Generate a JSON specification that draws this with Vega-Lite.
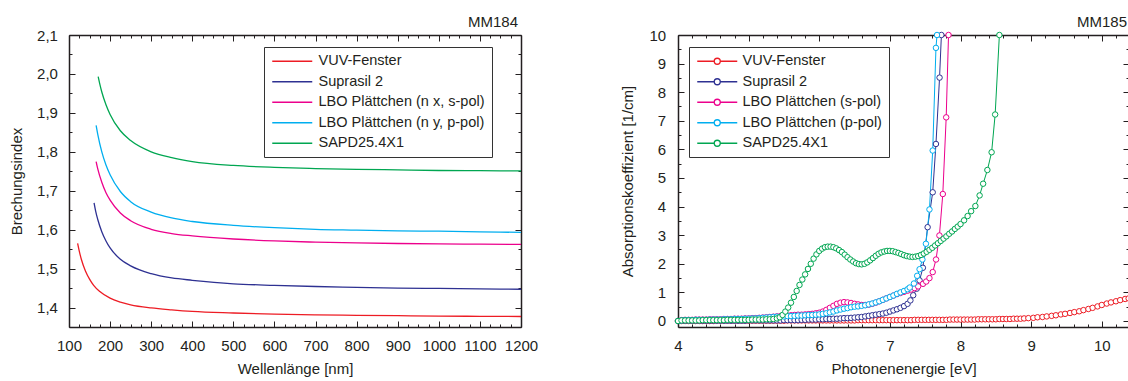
{
  "$schema": "https://vega.github.io/schema/vega-lite/v6.json",
  "padding": {"left": 9, "top": 14, "right": 0, "bottom": 0},
  "background": "white",
  "config": {
    "font": "Liberation Sans",
    "view": {"stroke": null},
    "axis": {"grid": false, "labelFont": "Liberation Sans", "labelFontSize": 15, "labelColor": "#231f20", "titleFont": "Liberation Sans", "titleFontSize": 15, "titleFontWeight": "normal", "titleColor": "#231f20", "domainColor": "#231f20", "domainWidth": 1.5, "tickColor": "#231f20", "tickWidth": 1, "labelOverlap": false, "labelFlush": false},
    "legend": {"labelFont": "Liberation Sans", "labelFontSize": 14.5, "labelColor": "#231f20", "strokeColor": "#333333", "fillColor": "white", "padding": 7, "rowPadding": 5.5, "labelLimit": 400},
    "title": {"font": "Liberation Sans", "fontSize": 15, "fontWeight": "normal", "color": "#231f20", "anchor": "end", "frame": "group", "offset": -1.75}
  },
  "datasets": {
    "brechung": [
      {"s": "VUV-Fenster", "wl": 121, "n": 1.565}, {"s": "VUV-Fenster", "wl": 125, "n": 1.545}, {"s": "VUV-Fenster", "wl": 130, "n": 1.524}, {"s": "VUV-Fenster", "wl": 140, "n": 1.494}, {"s": "VUV-Fenster", "wl": 150, "n": 1.473}, {"s": "VUV-Fenster", "wl": 160, "n": 1.457}, {"s": "VUV-Fenster", "wl": 175, "n": 1.441}, {"s": "VUV-Fenster", "wl": 200, "n": 1.424}, {"s": "VUV-Fenster", "wl": 225, "n": 1.414}, {"s": "VUV-Fenster", "wl": 250, "n": 1.407}, {"s": "VUV-Fenster", "wl": 300, "n": 1.399}, {"s": "VUV-Fenster", "wl": 350, "n": 1.394}, {"s": "VUV-Fenster", "wl": 400, "n": 1.39}, {"s": "VUV-Fenster", "wl": 500, "n": 1.386}, {"s": "VUV-Fenster", "wl": 600, "n": 1.383}, {"s": "VUV-Fenster", "wl": 700, "n": 1.381}, {"s": "VUV-Fenster", "wl": 800, "n": 1.38}, {"s": "VUV-Fenster", "wl": 900, "n": 1.379}, {"s": "VUV-Fenster", "wl": 1000, "n": 1.378}, {"s": "VUV-Fenster", "wl": 1100, "n": 1.3775}, {"s": "VUV-Fenster", "wl": 1200, "n": 1.377},
      {"s": "Suprasil 2", "wl": 161, "n": 1.669}, {"s": "Suprasil 2", "wl": 165, "n": 1.647}, {"s": "Suprasil 2", "wl": 170, "n": 1.626}, {"s": "Suprasil 2", "wl": 180, "n": 1.594}, {"s": "Suprasil 2", "wl": 190, "n": 1.571}, {"s": "Suprasil 2", "wl": 200, "n": 1.553}, {"s": "Suprasil 2", "wl": 225, "n": 1.524}, {"s": "Suprasil 2", "wl": 250, "n": 1.507}, {"s": "Suprasil 2", "wl": 300, "n": 1.487}, {"s": "Suprasil 2", "wl": 350, "n": 1.476}, {"s": "Suprasil 2", "wl": 400, "n": 1.47}, {"s": "Suprasil 2", "wl": 500, "n": 1.461}, {"s": "Suprasil 2", "wl": 600, "n": 1.457}, {"s": "Suprasil 2", "wl": 700, "n": 1.454}, {"s": "Suprasil 2", "wl": 800, "n": 1.452}, {"s": "Suprasil 2", "wl": 900, "n": 1.45}, {"s": "Suprasil 2", "wl": 1000, "n": 1.449}, {"s": "Suprasil 2", "wl": 1100, "n": 1.448}, {"s": "Suprasil 2", "wl": 1200, "n": 1.447},
      {"s": "LBO Plättchen (n x, s-pol)", "wl": 166, "n": 1.775}, {"s": "LBO Plättchen (n x, s-pol)", "wl": 170, "n": 1.756}, {"s": "LBO Plättchen (n x, s-pol)", "wl": 180, "n": 1.721}, {"s": "LBO Plättchen (n x, s-pol)", "wl": 190, "n": 1.695}, {"s": "LBO Plättchen (n x, s-pol)", "wl": 200, "n": 1.676}, {"s": "LBO Plättchen (n x, s-pol)", "wl": 225, "n": 1.643}, {"s": "LBO Plättchen (n x, s-pol)", "wl": 250, "n": 1.623}, {"s": "LBO Plättchen (n x, s-pol)", "wl": 300, "n": 1.601}, {"s": "LBO Plättchen (n x, s-pol)", "wl": 350, "n": 1.59}, {"s": "LBO Plättchen (n x, s-pol)", "wl": 400, "n": 1.584}, {"s": "LBO Plättchen (n x, s-pol)", "wl": 500, "n": 1.576}, {"s": "LBO Plättchen (n x, s-pol)", "wl": 600, "n": 1.571}, {"s": "LBO Plättchen (n x, s-pol)", "wl": 700, "n": 1.568}, {"s": "LBO Plättchen (n x, s-pol)", "wl": 800, "n": 1.566}, {"s": "LBO Plättchen (n x, s-pol)", "wl": 900, "n": 1.5645}, {"s": "LBO Plättchen (n x, s-pol)", "wl": 1000, "n": 1.5635}, {"s": "LBO Plättchen (n x, s-pol)", "wl": 1100, "n": 1.5628}, {"s": "LBO Plättchen (n x, s-pol)", "wl": 1200, "n": 1.562},
      {"s": "LBO Plättchen (n y, p-pol)", "wl": 166, "n": 1.868}, {"s": "LBO Plättchen (n y, p-pol)", "wl": 170, "n": 1.845}, {"s": "LBO Plättchen (n y, p-pol)", "wl": 180, "n": 1.799}, {"s": "LBO Plättchen (n y, p-pol)", "wl": 190, "n": 1.766}, {"s": "LBO Plättchen (n y, p-pol)", "wl": 200, "n": 1.741}, {"s": "LBO Plättchen (n y, p-pol)", "wl": 225, "n": 1.698}, {"s": "LBO Plättchen (n y, p-pol)", "wl": 250, "n": 1.672}, {"s": "LBO Plättchen (n y, p-pol)", "wl": 300, "n": 1.645}, {"s": "LBO Plättchen (n y, p-pol)", "wl": 350, "n": 1.63}, {"s": "LBO Plättchen (n y, p-pol)", "wl": 400, "n": 1.621}, {"s": "LBO Plättchen (n y, p-pol)", "wl": 500, "n": 1.611}, {"s": "LBO Plättchen (n y, p-pol)", "wl": 600, "n": 1.605}, {"s": "LBO Plättchen (n y, p-pol)", "wl": 700, "n": 1.601}, {"s": "LBO Plättchen (n y, p-pol)", "wl": 800, "n": 1.599}, {"s": "LBO Plättchen (n y, p-pol)", "wl": 900, "n": 1.597}, {"s": "LBO Plättchen (n y, p-pol)", "wl": 1000, "n": 1.596}, {"s": "LBO Plättchen (n y, p-pol)", "wl": 1100, "n": 1.5945}, {"s": "LBO Plättchen (n y, p-pol)", "wl": 1200, "n": 1.593},
      {"s": "SAPD25.4X1", "wl": 171, "n": 1.993}, {"s": "SAPD25.4X1", "wl": 175, "n": 1.974}, {"s": "SAPD25.4X1", "wl": 180, "n": 1.953}, {"s": "SAPD25.4X1", "wl": 190, "n": 1.921}, {"s": "SAPD25.4X1", "wl": 200, "n": 1.896}, {"s": "SAPD25.4X1", "wl": 225, "n": 1.854}, {"s": "SAPD25.4X1", "wl": 250, "n": 1.829}, {"s": "SAPD25.4X1", "wl": 300, "n": 1.8}, {"s": "SAPD25.4X1", "wl": 350, "n": 1.785}, {"s": "SAPD25.4X1", "wl": 400, "n": 1.775}, {"s": "SAPD25.4X1", "wl": 500, "n": 1.765}, {"s": "SAPD25.4X1", "wl": 600, "n": 1.76}, {"s": "SAPD25.4X1", "wl": 700, "n": 1.757}, {"s": "SAPD25.4X1", "wl": 800, "n": 1.755}, {"s": "SAPD25.4X1", "wl": 900, "n": 1.7535}, {"s": "SAPD25.4X1", "wl": 1000, "n": 1.752}, {"s": "SAPD25.4X1", "wl": 1100, "n": 1.7515}, {"s": "SAPD25.4X1", "wl": 1200, "n": 1.751}
    ],
    "absorption": [
      {"s": "VUV-Fenster", "e": 4.0, "a": 0}, {"s": "VUV-Fenster", "e": 4.05, "a": 0}, {"s": "VUV-Fenster", "e": 4.1, "a": 0}, {"s": "VUV-Fenster", "e": 4.15, "a": 0}, {"s": "VUV-Fenster", "e": 4.2, "a": 0}, {"s": "VUV-Fenster", "e": 4.25, "a": 0}, {"s": "VUV-Fenster", "e": 4.3, "a": 0}, {"s": "VUV-Fenster", "e": 4.35, "a": 0}, {"s": "VUV-Fenster", "e": 4.4, "a": 0}, {"s": "VUV-Fenster", "e": 4.45, "a": 0}, {"s": "VUV-Fenster", "e": 4.5, "a": 0},
      {"s": "VUV-Fenster", "e": 4.55, "a": 0.01}, {"s": "VUV-Fenster", "e": 4.6, "a": 0.01}, {"s": "VUV-Fenster", "e": 4.65, "a": 0.01}, {"s": "VUV-Fenster", "e": 4.7, "a": 0.01}, {"s": "VUV-Fenster", "e": 4.75, "a": 0.01}, {"s": "VUV-Fenster", "e": 4.8, "a": 0.01}, {"s": "VUV-Fenster", "e": 4.85, "a": 0.01}, {"s": "VUV-Fenster", "e": 4.9, "a": 0.01}, {"s": "VUV-Fenster", "e": 4.95, "a": 0.01}, {"s": "VUV-Fenster", "e": 5.0, "a": 0.01}, {"s": "VUV-Fenster", "e": 5.05, "a": 0.01}, {"s": "VUV-Fenster", "e": 5.1, "a": 0.01}, {"s": "VUV-Fenster", "e": 5.15, "a": 0.01}, {"s": "VUV-Fenster", "e": 5.2, "a": 0.01}, {"s": "VUV-Fenster", "e": 5.25, "a": 0.01}, {"s": "VUV-Fenster", "e": 5.3, "a": 0.01}, {"s": "VUV-Fenster", "e": 5.35, "a": 0.01}, {"s": "VUV-Fenster", "e": 5.4, "a": 0.01}, {"s": "VUV-Fenster", "e": 5.45, "a": 0.01}, {"s": "VUV-Fenster", "e": 5.5, "a": 0.01},
      {"s": "VUV-Fenster", "e": 5.55, "a": 0.02}, {"s": "VUV-Fenster", "e": 5.6, "a": 0.02}, {"s": "VUV-Fenster", "e": 5.65, "a": 0.02}, {"s": "VUV-Fenster", "e": 5.7, "a": 0.02}, {"s": "VUV-Fenster", "e": 5.75, "a": 0.02}, {"s": "VUV-Fenster", "e": 5.8, "a": 0.02}, {"s": "VUV-Fenster", "e": 5.85, "a": 0.02}, {"s": "VUV-Fenster", "e": 5.9, "a": 0.02}, {"s": "VUV-Fenster", "e": 5.95, "a": 0.02}, {"s": "VUV-Fenster", "e": 6.0, "a": 0.02}, {"s": "VUV-Fenster", "e": 6.05, "a": 0.02}, {"s": "VUV-Fenster", "e": 6.1, "a": 0.02}, {"s": "VUV-Fenster", "e": 6.15, "a": 0.02}, {"s": "VUV-Fenster", "e": 6.2, "a": 0.02}, {"s": "VUV-Fenster", "e": 6.25, "a": 0.02}, {"s": "VUV-Fenster", "e": 6.3, "a": 0.02}, {"s": "VUV-Fenster", "e": 6.35, "a": 0.02}, {"s": "VUV-Fenster", "e": 6.4, "a": 0.02}, {"s": "VUV-Fenster", "e": 6.45, "a": 0.02}, {"s": "VUV-Fenster", "e": 6.5, "a": 0.02},
      {"s": "VUV-Fenster", "e": 6.55, "a": 0.03}, {"s": "VUV-Fenster", "e": 6.6, "a": 0.03}, {"s": "VUV-Fenster", "e": 6.65, "a": 0.03}, {"s": "VUV-Fenster", "e": 6.7, "a": 0.03}, {"s": "VUV-Fenster", "e": 6.75, "a": 0.03}, {"s": "VUV-Fenster", "e": 6.8, "a": 0.03}, {"s": "VUV-Fenster", "e": 6.85, "a": 0.03}, {"s": "VUV-Fenster", "e": 6.9, "a": 0.03}, {"s": "VUV-Fenster", "e": 6.95, "a": 0.03}, {"s": "VUV-Fenster", "e": 7.0, "a": 0.03}, {"s": "VUV-Fenster", "e": 7.05, "a": 0.03}, {"s": "VUV-Fenster", "e": 7.1, "a": 0.03}, {"s": "VUV-Fenster", "e": 7.15, "a": 0.03}, {"s": "VUV-Fenster", "e": 7.2, "a": 0.03}, {"s": "VUV-Fenster", "e": 7.25, "a": 0.03}, {"s": "VUV-Fenster", "e": 7.3, "a": 0.03},
      {"s": "VUV-Fenster", "e": 7.35, "a": 0.04}, {"s": "VUV-Fenster", "e": 7.4, "a": 0.04}, {"s": "VUV-Fenster", "e": 7.45, "a": 0.04}, {"s": "VUV-Fenster", "e": 7.5, "a": 0.04}, {"s": "VUV-Fenster", "e": 7.55, "a": 0.04}, {"s": "VUV-Fenster", "e": 7.6, "a": 0.04}, {"s": "VUV-Fenster", "e": 7.65, "a": 0.04}, {"s": "VUV-Fenster", "e": 7.7, "a": 0.04}, {"s": "VUV-Fenster", "e": 7.75, "a": 0.04}, {"s": "VUV-Fenster", "e": 7.8, "a": 0.04},
      {"s": "VUV-Fenster", "e": 7.85, "a": 0.05}, {"s": "VUV-Fenster", "e": 7.9, "a": 0.05}, {"s": "VUV-Fenster", "e": 7.95, "a": 0.05}, {"s": "VUV-Fenster", "e": 8.0, "a": 0.05}, {"s": "VUV-Fenster", "e": 8.05, "a": 0.05}, {"s": "VUV-Fenster", "e": 8.1, "a": 0.05}, {"s": "VUV-Fenster", "e": 8.15, "a": 0.05}, {"s": "VUV-Fenster", "e": 8.2, "a": 0.05},
      {"s": "VUV-Fenster", "e": 8.25, "a": 0.06}, {"s": "VUV-Fenster", "e": 8.3, "a": 0.06}, {"s": "VUV-Fenster", "e": 8.35, "a": 0.06}, {"s": "VUV-Fenster", "e": 8.4, "a": 0.06}, {"s": "VUV-Fenster", "e": 8.45, "a": 0.06}, {"s": "VUV-Fenster", "e": 8.5, "a": 0.06},
      {"s": "VUV-Fenster", "e": 8.55, "a": 0.07}, {"s": "VUV-Fenster", "e": 8.6, "a": 0.07}, {"s": "VUV-Fenster", "e": 8.65, "a": 0.07}, {"s": "VUV-Fenster", "e": 8.7, "a": 0.07}, {"s": "VUV-Fenster", "e": 8.75, "a": 0.08}, {"s": "VUV-Fenster", "e": 8.8, "a": 0.08}, {"s": "VUV-Fenster", "e": 8.85, "a": 0.08}, {"s": "VUV-Fenster", "e": 8.9, "a": 0.09},
      {"s": "VUV-Fenster", "e": 8.96, "a": 0.1}, {"s": "VUV-Fenster", "e": 9.03, "a": 0.11}, {"s": "VUV-Fenster", "e": 9.09, "a": 0.13}, {"s": "VUV-Fenster", "e": 9.16, "a": 0.14}, {"s": "VUV-Fenster", "e": 9.22, "a": 0.16}, {"s": "VUV-Fenster", "e": 9.29, "a": 0.18}, {"s": "VUV-Fenster", "e": 9.35, "a": 0.2}, {"s": "VUV-Fenster", "e": 9.42, "a": 0.23}, {"s": "VUV-Fenster", "e": 9.48, "a": 0.25}, {"s": "VUV-Fenster", "e": 9.55, "a": 0.28}, {"s": "VUV-Fenster", "e": 9.61, "a": 0.31}, {"s": "VUV-Fenster", "e": 9.68, "a": 0.34}, {"s": "VUV-Fenster", "e": 9.74, "a": 0.38}, {"s": "VUV-Fenster", "e": 9.81, "a": 0.42}, {"s": "VUV-Fenster", "e": 9.87, "a": 0.46}, {"s": "VUV-Fenster", "e": 9.94, "a": 0.51}, {"s": "VUV-Fenster", "e": 10.0, "a": 0.56}, {"s": "VUV-Fenster", "e": 10.07, "a": 0.61}, {"s": "VUV-Fenster", "e": 10.13, "a": 0.65}, {"s": "VUV-Fenster", "e": 10.2, "a": 0.69}, {"s": "VUV-Fenster", "e": 10.26, "a": 0.73}, {"s": "VUV-Fenster", "e": 10.33, "a": 0.77}, {"s": "VUV-Fenster", "e": 10.38, "a": 0.79},

      {"s": "Suprasil 2", "e": 4.0, "a": 0}, {"s": "Suprasil 2", "e": 4.05, "a": 0.01}, {"s": "Suprasil 2", "e": 4.1, "a": 0.01}, {"s": "Suprasil 2", "e": 4.15, "a": 0.01}, {"s": "Suprasil 2", "e": 4.2, "a": 0.01}, {"s": "Suprasil 2", "e": 4.25, "a": 0.01}, {"s": "Suprasil 2", "e": 4.3, "a": 0.01}, {"s": "Suprasil 2", "e": 4.35, "a": 0.01}, {"s": "Suprasil 2", "e": 4.4, "a": 0.01}, {"s": "Suprasil 2", "e": 4.45, "a": 0.01}, {"s": "Suprasil 2", "e": 4.5, "a": 0.01}, {"s": "Suprasil 2", "e": 4.55, "a": 0.01}, {"s": "Suprasil 2", "e": 4.6, "a": 0.01}, {"s": "Suprasil 2", "e": 4.65, "a": 0.01}, {"s": "Suprasil 2", "e": 4.7, "a": 0.01}, {"s": "Suprasil 2", "e": 4.75, "a": 0.01}, {"s": "Suprasil 2", "e": 4.8, "a": 0.01}, {"s": "Suprasil 2", "e": 4.85, "a": 0.01}, {"s": "Suprasil 2", "e": 4.9, "a": 0.01}, {"s": "Suprasil 2", "e": 4.95, "a": 0.01},
      {"s": "Suprasil 2", "e": 5.0, "a": 0.02}, {"s": "Suprasil 2", "e": 5.05, "a": 0.02}, {"s": "Suprasil 2", "e": 5.1, "a": 0.02}, {"s": "Suprasil 2", "e": 5.15, "a": 0.02}, {"s": "Suprasil 2", "e": 5.2, "a": 0.02}, {"s": "Suprasil 2", "e": 5.25, "a": 0.02}, {"s": "Suprasil 2", "e": 5.3, "a": 0.02}, {"s": "Suprasil 2", "e": 5.35, "a": 0.02}, {"s": "Suprasil 2", "e": 5.4, "a": 0.02}, {"s": "Suprasil 2", "e": 5.45, "a": 0.02}, {"s": "Suprasil 2", "e": 5.5, "a": 0.03}, {"s": "Suprasil 2", "e": 5.55, "a": 0.03}, {"s": "Suprasil 2", "e": 5.6, "a": 0.03}, {"s": "Suprasil 2", "e": 5.65, "a": 0.03}, {"s": "Suprasil 2", "e": 5.7, "a": 0.03}, {"s": "Suprasil 2", "e": 5.75, "a": 0.04}, {"s": "Suprasil 2", "e": 5.8, "a": 0.04}, {"s": "Suprasil 2", "e": 5.85, "a": 0.05}, {"s": "Suprasil 2", "e": 5.9, "a": 0.05}, {"s": "Suprasil 2", "e": 5.95, "a": 0.05},
      {"s": "Suprasil 2", "e": 6.0, "a": 0.06}, {"s": "Suprasil 2", "e": 6.05, "a": 0.06}, {"s": "Suprasil 2", "e": 6.1, "a": 0.07}, {"s": "Suprasil 2", "e": 6.15, "a": 0.07}, {"s": "Suprasil 2", "e": 6.2, "a": 0.08}, {"s": "Suprasil 2", "e": 6.25, "a": 0.08}, {"s": "Suprasil 2", "e": 6.3, "a": 0.09}, {"s": "Suprasil 2", "e": 6.35, "a": 0.1}, {"s": "Suprasil 2", "e": 6.4, "a": 0.1}, {"s": "Suprasil 2", "e": 6.45, "a": 0.11}, {"s": "Suprasil 2", "e": 6.5, "a": 0.12}, {"s": "Suprasil 2", "e": 6.55, "a": 0.13}, {"s": "Suprasil 2", "e": 6.6, "a": 0.14}, {"s": "Suprasil 2", "e": 6.65, "a": 0.16}, {"s": "Suprasil 2", "e": 6.7, "a": 0.18}, {"s": "Suprasil 2", "e": 6.75, "a": 0.2}, {"s": "Suprasil 2", "e": 6.8, "a": 0.22}, {"s": "Suprasil 2", "e": 6.85, "a": 0.24}, {"s": "Suprasil 2", "e": 6.9, "a": 0.26}, {"s": "Suprasil 2", "e": 6.95, "a": 0.29}, {"s": "Suprasil 2", "e": 7.0, "a": 0.33}, {"s": "Suprasil 2", "e": 7.05, "a": 0.37}, {"s": "Suprasil 2", "e": 7.1, "a": 0.41}, {"s": "Suprasil 2", "e": 7.15, "a": 0.46}, {"s": "Suprasil 2", "e": 7.2, "a": 0.52}, {"s": "Suprasil 2", "e": 7.25, "a": 0.6}, {"s": "Suprasil 2", "e": 7.29, "a": 0.72}, {"s": "Suprasil 2", "e": 7.33, "a": 0.9}, {"s": "Suprasil 2", "e": 7.38, "a": 1.13}, {"s": "Suprasil 2", "e": 7.42, "a": 1.42}, {"s": "Suprasil 2", "e": 7.467, "a": 1.86}, {"s": "Suprasil 2", "e": 7.534, "a": 3.28}, {"s": "Suprasil 2", "e": 7.606, "a": 4.5}, {"s": "Suprasil 2", "e": 7.652, "a": 6.19}, {"s": "Suprasil 2", "e": 7.703, "a": 8.51}, {"s": "Suprasil 2", "e": 7.729, "a": 10},

      {"s": "LBO Plättchen (s-pol)", "e": 4.0, "a": 0}, {"s": "LBO Plättchen (s-pol)", "e": 4.05, "a": 0.03}, {"s": "LBO Plättchen (s-pol)", "e": 4.1, "a": 0.04}, {"s": "LBO Plättchen (s-pol)", "e": 4.15, "a": 0.04}, {"s": "LBO Plättchen (s-pol)", "e": 4.2, "a": 0.04}, {"s": "LBO Plättchen (s-pol)", "e": 4.25, "a": 0.05}, {"s": "LBO Plättchen (s-pol)", "e": 4.3, "a": 0.05}, {"s": "LBO Plättchen (s-pol)", "e": 4.35, "a": 0.05}, {"s": "LBO Plättchen (s-pol)", "e": 4.4, "a": 0.05}, {"s": "LBO Plättchen (s-pol)", "e": 4.45, "a": 0.06}, {"s": "LBO Plättchen (s-pol)", "e": 4.5, "a": 0.06}, {"s": "LBO Plättchen (s-pol)", "e": 4.55, "a": 0.06}, {"s": "LBO Plättchen (s-pol)", "e": 4.6, "a": 0.06}, {"s": "LBO Plättchen (s-pol)", "e": 4.65, "a": 0.07}, {"s": "LBO Plättchen (s-pol)", "e": 4.7, "a": 0.07}, {"s": "LBO Plättchen (s-pol)", "e": 4.75, "a": 0.07}, {"s": "LBO Plättchen (s-pol)", "e": 4.8, "a": 0.08}, {"s": "LBO Plättchen (s-pol)", "e": 4.85, "a": 0.08}, {"s": "LBO Plättchen (s-pol)", "e": 4.9, "a": 0.08}, {"s": "LBO Plättchen (s-pol)", "e": 4.95, "a": 0.09},
      {"s": "LBO Plättchen (s-pol)", "e": 5.0, "a": 0.09}, {"s": "LBO Plättchen (s-pol)", "e": 5.05, "a": 0.1}, {"s": "LBO Plättchen (s-pol)", "e": 5.1, "a": 0.1}, {"s": "LBO Plättchen (s-pol)", "e": 5.15, "a": 0.11}, {"s": "LBO Plättchen (s-pol)", "e": 5.2, "a": 0.12}, {"s": "LBO Plättchen (s-pol)", "e": 5.25, "a": 0.13}, {"s": "LBO Plättchen (s-pol)", "e": 5.3, "a": 0.14}, {"s": "LBO Plättchen (s-pol)", "e": 5.35, "a": 0.15}, {"s": "LBO Plättchen (s-pol)", "e": 5.4, "a": 0.16}, {"s": "LBO Plättchen (s-pol)", "e": 5.45, "a": 0.17}, {"s": "LBO Plättchen (s-pol)", "e": 5.5, "a": 0.18}, {"s": "LBO Plättchen (s-pol)", "e": 5.55, "a": 0.19}, {"s": "LBO Plättchen (s-pol)", "e": 5.6, "a": 0.2}, {"s": "LBO Plättchen (s-pol)", "e": 5.65, "a": 0.21}, {"s": "LBO Plättchen (s-pol)", "e": 5.7, "a": 0.22}, {"s": "LBO Plättchen (s-pol)", "e": 5.75, "a": 0.22}, {"s": "LBO Plättchen (s-pol)", "e": 5.8, "a": 0.23}, {"s": "LBO Plättchen (s-pol)", "e": 5.85, "a": 0.24}, {"s": "LBO Plättchen (s-pol)", "e": 5.9, "a": 0.25}, {"s": "LBO Plättchen (s-pol)", "e": 5.95, "a": 0.27},
      {"s": "LBO Plättchen (s-pol)", "e": 6.0, "a": 0.29}, {"s": "LBO Plättchen (s-pol)", "e": 6.05, "a": 0.33}, {"s": "LBO Plättchen (s-pol)", "e": 6.1, "a": 0.39}, {"s": "LBO Plättchen (s-pol)", "e": 6.15, "a": 0.46}, {"s": "LBO Plättchen (s-pol)", "e": 6.2, "a": 0.53}, {"s": "LBO Plättchen (s-pol)", "e": 6.25, "a": 0.6}, {"s": "LBO Plättchen (s-pol)", "e": 6.3, "a": 0.64}, {"s": "LBO Plättchen (s-pol)", "e": 6.35, "a": 0.66}, {"s": "LBO Plättchen (s-pol)", "e": 6.4, "a": 0.65}, {"s": "LBO Plättchen (s-pol)", "e": 6.45, "a": 0.63}, {"s": "LBO Plättchen (s-pol)", "e": 6.5, "a": 0.6}, {"s": "LBO Plättchen (s-pol)", "e": 6.55, "a": 0.58}, {"s": "LBO Plättchen (s-pol)", "e": 6.6, "a": 0.56}, {"s": "LBO Plättchen (s-pol)", "e": 6.65, "a": 0.56}, {"s": "LBO Plättchen (s-pol)", "e": 6.7, "a": 0.57}, {"s": "LBO Plättchen (s-pol)", "e": 6.75, "a": 0.6}, {"s": "LBO Plättchen (s-pol)", "e": 6.8, "a": 0.64}, {"s": "LBO Plättchen (s-pol)", "e": 6.85, "a": 0.69}, {"s": "LBO Plättchen (s-pol)", "e": 6.9, "a": 0.74}, {"s": "LBO Plättchen (s-pol)", "e": 6.95, "a": 0.79}, {"s": "LBO Plättchen (s-pol)", "e": 7.0, "a": 0.84}, {"s": "LBO Plättchen (s-pol)", "e": 7.05, "a": 0.89}, {"s": "LBO Plättchen (s-pol)", "e": 7.1, "a": 0.94}, {"s": "LBO Plättchen (s-pol)", "e": 7.15, "a": 0.98}, {"s": "LBO Plättchen (s-pol)", "e": 7.2, "a": 1.02}, {"s": "LBO Plättchen (s-pol)", "e": 7.25, "a": 1.06}, {"s": "LBO Plättchen (s-pol)", "e": 7.3, "a": 1.1}, {"s": "LBO Plättchen (s-pol)", "e": 7.35, "a": 1.15}, {"s": "LBO Plättchen (s-pol)", "e": 7.4, "a": 1.21}, {"s": "LBO Plättchen (s-pol)", "e": 7.469, "a": 1.3}, {"s": "LBO Plättchen (s-pol)", "e": 7.514, "a": 1.38}, {"s": "LBO Plättchen (s-pol)", "e": 7.56, "a": 1.5}, {"s": "LBO Plättchen (s-pol)", "e": 7.606, "a": 1.71}, {"s": "LBO Plättchen (s-pol)", "e": 7.653, "a": 2.15}, {"s": "LBO Plättchen (s-pol)", "e": 7.701, "a": 2.99}, {"s": "LBO Plättchen (s-pol)", "e": 7.749, "a": 4.44}, {"s": "LBO Plättchen (s-pol)", "e": 7.797, "a": 7.12}, {"s": "LBO Plättchen (s-pol)", "e": 7.83, "a": 10},

      {"s": "LBO Plättchen (p-pol)", "e": 4.0, "a": 0}, {"s": "LBO Plättchen (p-pol)", "e": 4.05, "a": 0.02}, {"s": "LBO Plättchen (p-pol)", "e": 4.1, "a": 0.03}, {"s": "LBO Plättchen (p-pol)", "e": 4.15, "a": 0.03}, {"s": "LBO Plättchen (p-pol)", "e": 4.2, "a": 0.03}, {"s": "LBO Plättchen (p-pol)", "e": 4.25, "a": 0.04}, {"s": "LBO Plättchen (p-pol)", "e": 4.3, "a": 0.04}, {"s": "LBO Plättchen (p-pol)", "e": 4.35, "a": 0.04}, {"s": "LBO Plättchen (p-pol)", "e": 4.4, "a": 0.04}, {"s": "LBO Plättchen (p-pol)", "e": 4.45, "a": 0.05}, {"s": "LBO Plättchen (p-pol)", "e": 4.5, "a": 0.05}, {"s": "LBO Plättchen (p-pol)", "e": 4.55, "a": 0.05}, {"s": "LBO Plättchen (p-pol)", "e": 4.6, "a": 0.05}, {"s": "LBO Plättchen (p-pol)", "e": 4.65, "a": 0.06}, {"s": "LBO Plättchen (p-pol)", "e": 4.7, "a": 0.06}, {"s": "LBO Plättchen (p-pol)", "e": 4.75, "a": 0.06}, {"s": "LBO Plättchen (p-pol)", "e": 4.8, "a": 0.07}, {"s": "LBO Plättchen (p-pol)", "e": 4.85, "a": 0.07}, {"s": "LBO Plättchen (p-pol)", "e": 4.9, "a": 0.07}, {"s": "LBO Plättchen (p-pol)", "e": 4.95, "a": 0.08},
      {"s": "LBO Plättchen (p-pol)", "e": 5.0, "a": 0.08}, {"s": "LBO Plättchen (p-pol)", "e": 5.05, "a": 0.09}, {"s": "LBO Plättchen (p-pol)", "e": 5.1, "a": 0.09}, {"s": "LBO Plättchen (p-pol)", "e": 5.15, "a": 0.1}, {"s": "LBO Plättchen (p-pol)", "e": 5.2, "a": 0.11}, {"s": "LBO Plättchen (p-pol)", "e": 5.25, "a": 0.12}, {"s": "LBO Plättchen (p-pol)", "e": 5.3, "a": 0.13}, {"s": "LBO Plättchen (p-pol)", "e": 5.35, "a": 0.14}, {"s": "LBO Plättchen (p-pol)", "e": 5.4, "a": 0.15}, {"s": "LBO Plättchen (p-pol)", "e": 5.45, "a": 0.15}, {"s": "LBO Plättchen (p-pol)", "e": 5.5, "a": 0.16}, {"s": "LBO Plättchen (p-pol)", "e": 5.55, "a": 0.17}, {"s": "LBO Plättchen (p-pol)", "e": 5.6, "a": 0.17}, {"s": "LBO Plättchen (p-pol)", "e": 5.65, "a": 0.18}, {"s": "LBO Plättchen (p-pol)", "e": 5.7, "a": 0.19}, {"s": "LBO Plättchen (p-pol)", "e": 5.75, "a": 0.19}, {"s": "LBO Plättchen (p-pol)", "e": 5.8, "a": 0.2}, {"s": "LBO Plättchen (p-pol)", "e": 5.85, "a": 0.21}, {"s": "LBO Plättchen (p-pol)", "e": 5.9, "a": 0.21}, {"s": "LBO Plättchen (p-pol)", "e": 5.95, "a": 0.22},
      {"s": "LBO Plättchen (p-pol)", "e": 6.0, "a": 0.23}, {"s": "LBO Plättchen (p-pol)", "e": 6.05, "a": 0.25}, {"s": "LBO Plättchen (p-pol)", "e": 6.1, "a": 0.27}, {"s": "LBO Plättchen (p-pol)", "e": 6.15, "a": 0.3}, {"s": "LBO Plättchen (p-pol)", "e": 6.2, "a": 0.33}, {"s": "LBO Plättchen (p-pol)", "e": 6.25, "a": 0.37}, {"s": "LBO Plättchen (p-pol)", "e": 6.3, "a": 0.4}, {"s": "LBO Plättchen (p-pol)", "e": 6.35, "a": 0.43}, {"s": "LBO Plättchen (p-pol)", "e": 6.4, "a": 0.45}, {"s": "LBO Plättchen (p-pol)", "e": 6.45, "a": 0.48}, {"s": "LBO Plättchen (p-pol)", "e": 6.5, "a": 0.5}, {"s": "LBO Plättchen (p-pol)", "e": 6.55, "a": 0.51}, {"s": "LBO Plättchen (p-pol)", "e": 6.6, "a": 0.53}, {"s": "LBO Plättchen (p-pol)", "e": 6.65, "a": 0.55}, {"s": "LBO Plättchen (p-pol)", "e": 6.7, "a": 0.58}, {"s": "LBO Plättchen (p-pol)", "e": 6.75, "a": 0.61}, {"s": "LBO Plättchen (p-pol)", "e": 6.8, "a": 0.65}, {"s": "LBO Plättchen (p-pol)", "e": 6.85, "a": 0.69}, {"s": "LBO Plättchen (p-pol)", "e": 6.9, "a": 0.74}, {"s": "LBO Plättchen (p-pol)", "e": 6.95, "a": 0.79}, {"s": "LBO Plättchen (p-pol)", "e": 7.0, "a": 0.84}, {"s": "LBO Plättchen (p-pol)", "e": 7.05, "a": 0.89}, {"s": "LBO Plättchen (p-pol)", "e": 7.1, "a": 0.95}, {"s": "LBO Plättchen (p-pol)", "e": 7.15, "a": 1.0}, {"s": "LBO Plättchen (p-pol)", "e": 7.2, "a": 1.05}, {"s": "LBO Plättchen (p-pol)", "e": 7.25, "a": 1.11}, {"s": "LBO Plättchen (p-pol)", "e": 7.28, "a": 1.17}, {"s": "LBO Plättchen (p-pol)", "e": 7.34, "a": 1.31}, {"s": "LBO Plättchen (p-pol)", "e": 7.386, "a": 1.58}, {"s": "LBO Plättchen (p-pol)", "e": 7.42, "a": 1.81}, {"s": "LBO Plättchen (p-pol)", "e": 7.46, "a": 2.15}, {"s": "LBO Plättchen (p-pol)", "e": 7.51, "a": 2.7}, {"s": "LBO Plättchen (p-pol)", "e": 7.56, "a": 3.9}, {"s": "LBO Plättchen (p-pol)", "e": 7.606, "a": 5.96}, {"s": "LBO Plättchen (p-pol)", "e": 7.652, "a": 9.55}, {"s": "LBO Plättchen (p-pol)", "e": 7.667, "a": 10},

      {"s": "SAPD25.4X1", "e": 4.0, "a": 0}, {"s": "SAPD25.4X1", "e": 4.05, "a": 0.02}, {"s": "SAPD25.4X1", "e": 4.1, "a": 0.02}, {"s": "SAPD25.4X1", "e": 4.15, "a": 0.02}, {"s": "SAPD25.4X1", "e": 4.2, "a": 0.02}, {"s": "SAPD25.4X1", "e": 4.25, "a": 0.02}, {"s": "SAPD25.4X1", "e": 4.3, "a": 0.02}, {"s": "SAPD25.4X1", "e": 4.35, "a": 0.03}, {"s": "SAPD25.4X1", "e": 4.4, "a": 0.03}, {"s": "SAPD25.4X1", "e": 4.45, "a": 0.03}, {"s": "SAPD25.4X1", "e": 4.5, "a": 0.03}, {"s": "SAPD25.4X1", "e": 4.55, "a": 0.03}, {"s": "SAPD25.4X1", "e": 4.6, "a": 0.03}, {"s": "SAPD25.4X1", "e": 4.65, "a": 0.03}, {"s": "SAPD25.4X1", "e": 4.7, "a": 0.04}, {"s": "SAPD25.4X1", "e": 4.75, "a": 0.04}, {"s": "SAPD25.4X1", "e": 4.8, "a": 0.04}, {"s": "SAPD25.4X1", "e": 4.85, "a": 0.04}, {"s": "SAPD25.4X1", "e": 4.9, "a": 0.04}, {"s": "SAPD25.4X1", "e": 4.95, "a": 0.04},
      {"s": "SAPD25.4X1", "e": 5.0, "a": 0.04}, {"s": "SAPD25.4X1", "e": 5.05, "a": 0.05}, {"s": "SAPD25.4X1", "e": 5.1, "a": 0.05}, {"s": "SAPD25.4X1", "e": 5.15, "a": 0.05}, {"s": "SAPD25.4X1", "e": 5.2, "a": 0.05}, {"s": "SAPD25.4X1", "e": 5.25, "a": 0.06}, {"s": "SAPD25.4X1", "e": 5.3, "a": 0.06}, {"s": "SAPD25.4X1", "e": 5.35, "a": 0.07}, {"s": "SAPD25.4X1", "e": 5.4, "a": 0.09}, {"s": "SAPD25.4X1", "e": 5.44, "a": 0.13}, {"s": "SAPD25.4X1", "e": 5.48, "a": 0.21}, {"s": "SAPD25.4X1", "e": 5.52, "a": 0.33}, {"s": "SAPD25.4X1", "e": 5.56, "a": 0.47}, {"s": "SAPD25.4X1", "e": 5.6, "a": 0.64}, {"s": "SAPD25.4X1", "e": 5.64, "a": 0.84}, {"s": "SAPD25.4X1", "e": 5.68, "a": 1.05}, {"s": "SAPD25.4X1", "e": 5.72, "a": 1.26}, {"s": "SAPD25.4X1", "e": 5.76, "a": 1.45}, {"s": "SAPD25.4X1", "e": 5.8, "a": 1.63}, {"s": "SAPD25.4X1", "e": 5.84, "a": 1.82}, {"s": "SAPD25.4X1", "e": 5.88, "a": 2.0}, {"s": "SAPD25.4X1", "e": 5.92, "a": 2.18}, {"s": "SAPD25.4X1", "e": 5.96, "a": 2.33},
      {"s": "SAPD25.4X1", "e": 6.0, "a": 2.45}, {"s": "SAPD25.4X1", "e": 6.04, "a": 2.53}, {"s": "SAPD25.4X1", "e": 6.08, "a": 2.58}, {"s": "SAPD25.4X1", "e": 6.12, "a": 2.6}, {"s": "SAPD25.4X1", "e": 6.16, "a": 2.6}, {"s": "SAPD25.4X1", "e": 6.2, "a": 2.58}, {"s": "SAPD25.4X1", "e": 6.24, "a": 2.54}, {"s": "SAPD25.4X1", "e": 6.28, "a": 2.48}, {"s": "SAPD25.4X1", "e": 6.32, "a": 2.41}, {"s": "SAPD25.4X1", "e": 6.36, "a": 2.32}, {"s": "SAPD25.4X1", "e": 6.4, "a": 2.23}, {"s": "SAPD25.4X1", "e": 6.44, "a": 2.15}, {"s": "SAPD25.4X1", "e": 6.48, "a": 2.08}, {"s": "SAPD25.4X1", "e": 6.52, "a": 2.02}, {"s": "SAPD25.4X1", "e": 6.56, "a": 1.99}, {"s": "SAPD25.4X1", "e": 6.6, "a": 1.98}, {"s": "SAPD25.4X1", "e": 6.64, "a": 2.0}, {"s": "SAPD25.4X1", "e": 6.68, "a": 2.05}, {"s": "SAPD25.4X1", "e": 6.72, "a": 2.12}, {"s": "SAPD25.4X1", "e": 6.76, "a": 2.2}, {"s": "SAPD25.4X1", "e": 6.8, "a": 2.28}, {"s": "SAPD25.4X1", "e": 6.84, "a": 2.35}, {"s": "SAPD25.4X1", "e": 6.88, "a": 2.4}, {"s": "SAPD25.4X1", "e": 6.92, "a": 2.43}, {"s": "SAPD25.4X1", "e": 6.96, "a": 2.45},
      {"s": "SAPD25.4X1", "e": 7.0, "a": 2.45}, {"s": "SAPD25.4X1", "e": 7.04, "a": 2.44}, {"s": "SAPD25.4X1", "e": 7.08, "a": 2.41}, {"s": "SAPD25.4X1", "e": 7.12, "a": 2.38}, {"s": "SAPD25.4X1", "e": 7.16, "a": 2.34}, {"s": "SAPD25.4X1", "e": 7.2, "a": 2.3}, {"s": "SAPD25.4X1", "e": 7.24, "a": 2.27}, {"s": "SAPD25.4X1", "e": 7.28, "a": 2.25}, {"s": "SAPD25.4X1", "e": 7.32, "a": 2.24}, {"s": "SAPD25.4X1", "e": 7.36, "a": 2.25}, {"s": "SAPD25.4X1", "e": 7.4, "a": 2.27}, {"s": "SAPD25.4X1", "e": 7.44, "a": 2.31}, {"s": "SAPD25.4X1", "e": 7.48, "a": 2.36}, {"s": "SAPD25.4X1", "e": 7.52, "a": 2.42}, {"s": "SAPD25.4X1", "e": 7.56, "a": 2.49}, {"s": "SAPD25.4X1", "e": 7.6, "a": 2.56}, {"s": "SAPD25.4X1", "e": 7.64, "a": 2.64}, {"s": "SAPD25.4X1", "e": 7.68, "a": 2.72}, {"s": "SAPD25.4X1", "e": 7.72, "a": 2.8}, {"s": "SAPD25.4X1", "e": 7.76, "a": 2.88}, {"s": "SAPD25.4X1", "e": 7.8, "a": 2.96}, {"s": "SAPD25.4X1", "e": 7.84, "a": 3.05}, {"s": "SAPD25.4X1", "e": 7.88, "a": 3.13}, {"s": "SAPD25.4X1", "e": 7.92, "a": 3.22}, {"s": "SAPD25.4X1", "e": 7.96, "a": 3.3},
      {"s": "SAPD25.4X1", "e": 8.0, "a": 3.39}, {"s": "SAPD25.4X1", "e": 8.05, "a": 3.52}, {"s": "SAPD25.4X1", "e": 8.1, "a": 3.67}, {"s": "SAPD25.4X1", "e": 8.15, "a": 3.84}, {"s": "SAPD25.4X1", "e": 8.21, "a": 4.02}, {"s": "SAPD25.4X1", "e": 8.27, "a": 4.39}, {"s": "SAPD25.4X1", "e": 8.32, "a": 4.8}, {"s": "SAPD25.4X1", "e": 8.38, "a": 5.28}, {"s": "SAPD25.4X1", "e": 8.44, "a": 5.9}, {"s": "SAPD25.4X1", "e": 8.49, "a": 7.22}, {"s": "SAPD25.4X1", "e": 8.55, "a": 10}
    ]
  },
  "hconcat": [
    {
      "width": 452,
      "height": 292,
      "title": {"text": "MM184", "dx": -3},
      "data": {"name": "brechung"},
      "layer": [
        {
          "mark": {"type": "line", "strokeWidth": 1.3, "interpolate": "monotone"},
          "encoding": {
            "x": {"field": "wl", "type": "quantitative", "scale": {"domain": [100, 1200], "nice": false},
              "axis": {"orient": "bottom", "title": "Wellenlänge [nm]", "values": [100,200,300,400,500,600,700,800,900,1000,1100,1200], "format": "d",
                "ticks": false, "domain": false, "labelPadding": 11.2, "titlePadding": 8}},
            "y": {"field": "n", "type": "quantitative", "scale": {"domain": [1.35, 2.1], "nice": false, "zero": false},
              "axis": {"orient": "left", "title": "Brechungsindex", "values": [1.4,1.5,1.6,1.7,1.8,1.9,2.0,2.1],
                "labelExpr": "replace(format(datum.value, '.1f'), '.', ',')",
                "ticks": false, "domain": false, "labelPadding": 11.6, "titlePadding": 12}},
            "color": {"field": "s", "type": "nominal",
              "scale": {"domain": ["VUV-Fenster", "Suprasil 2", "LBO Plättchen (n x, s-pol)", "LBO Plättchen (n y, p-pol)", "SAPD25.4X1"], "range": ["#ed1c24", "#2e3192", "#ec008c", "#00aeef", "#00a651"]},
              "legend": {"orient": "none", "legendX": 195, "legendY": 12, "title": null, "symbolType": "M-5,0L5,0", "symbolSize": 64, "symbolStrokeWidth": 1.3, "symbolOffset": 14, "labelOffset": 19}}
          }
        },
        {
          "mark": {"type": "line", "opacity": 0},
          "encoding": {
            "x": {"field": "wl", "type": "quantitative",
              "axis": {"orient": "top", "offset": -292, "title": null, "labels": false, "values": [100,125,150,175,200,225,250,275,300,325,350,375,400,425,450,475,500,525,550,575,600,625,650,675,700,725,750,775,800,825,850,875,900,925,950,975,1000,1025,1050,1075,1100,1125,1150,1175,1200],
                "tickSize": {"condition": {"test": "datum.value % 100 === 0", "value": 6}, "value": 3}}},
            "y": {"field": "n", "type": "quantitative",
              "axis": {"orient": "right", "offset": -452, "title": null, "labels": false, "values": [1.35,1.4,1.45,1.5,1.55,1.6,1.65,1.7,1.75,1.8,1.85,1.9,1.95,2.0,2.05,2.1],
                "tickSize": {"condition": {"test": "abs(datum.value*10 - round(datum.value*10)) < 0.001", "value": 6}, "value": 3}}},
            "detail": {"field": "s"}
          }
        },
        {
          "mark": {"type": "line", "opacity": 0},
          "encoding": {
            "x": {"field": "wl", "type": "quantitative",
              "axis": {"orient": "bottom", "offset": -292, "title": null, "labels": false, "values": [100,125,150,175,200,225,250,275,300,325,350,375,400,425,450,475,500,525,550,575,600,625,650,675,700,725,750,775,800,825,850,875,900,925,950,975,1000,1025,1050,1075,1100,1125,1150,1175,1200],
                "tickSize": {"condition": {"test": "datum.value % 100 === 0", "value": 6}, "value": 3}}},
            "y": {"field": "n", "type": "quantitative",
              "axis": {"orient": "left", "offset": -452, "title": null, "labels": false, "values": [1.35,1.4,1.45,1.5,1.55,1.6,1.65,1.7,1.75,1.8,1.85,1.9,1.95,2.0,2.05,2.1],
                "tickSize": {"condition": {"test": "abs(datum.value*10 - round(datum.value*10)) < 0.001", "value": 6}, "value": 3}}},
            "detail": {"field": "s"}
          }
        }
      ],
      "resolve": {"axis": {"x": "independent", "y": "independent"}}
    },
    {
      "width": 451,
      "height": 292,
      "title": {"text": "MM185", "dx": -2},
      "data": {"name": "absorption"},
      "layer": [
        {
          "mark": {"type": "line", "strokeWidth": 1, "point": {"filled": false, "fill": "white", "size": 30, "strokeWidth": 1}},
          "encoding": {
            "x": {"field": "e", "type": "quantitative", "scale": {"domain": [4, 10.385], "nice": false, "zero": false},
              "axis": {"orient": "bottom", "title": "Photonenenergie [eV]", "values": [4,5,6,7,8,9,10], "format": "d",
                "ticks": false, "domain": false, "labelPadding": 11.2, "titlePadding": 8}},
            "y": {"field": "a", "type": "quantitative", "scale": {"domain": [-0.21, 10], "nice": false, "zero": false},
              "axis": {"orient": "left", "title": "Absorptionskoeffizient [1/cm]", "values": [0,1,2,3,4,5,6,7,8,9,10], "format": "d",
                "ticks": false, "domain": false, "labelPadding": 12.3, "titlePadding": 14}},
            "color": {"field": "s", "type": "nominal",
              "scale": {"domain": ["VUV-Fenster", "Suprasil 2", "LBO Plättchen (s-pol)", "LBO Plättchen (p-pol)", "SAPD25.4X1"], "range": ["#ed1c24", "#2e3192", "#ec008c", "#00aeef", "#00a651"]},
              "legend": {"orient": "none", "legendX": 11, "legendY": 12, "title": null, "symbolType": "M-5,0L-0.75,0M0.75,0L5,0M-0.75,0A0.75,0.75,0,1,1,0.75,0A0.75,0.75,0,1,1,-0.75,0", "symbolSize": 64, "symbolStrokeWidth": 1.3, "symbolOffset": 14, "labelOffset": 18,
                "encode": {"symbols": {"update": {"fill": {"value": "white"}}}}}}
          }
        },
        {
          "mark": {"type": "line", "opacity": 0},
          "encoding": {
            "x": {"field": "e", "type": "quantitative",
              "axis": {"orient": "top", "offset": -292, "title": null, "labels": false, "values": [4,4.2,4.4,4.6,4.8,5,5.2,5.4,5.6,5.8,6,6.2,6.4,6.6,6.8,7,7.2,7.4,7.6,7.8,8,8.2,8.4,8.6,8.8,9,9.2,9.4,9.6,9.8,10,10.2],
                "tickSize": {"condition": {"test": "abs(datum.value - round(datum.value)) < 0.001", "value": 6}, "value": 3}}},
            "y": {"field": "a", "type": "quantitative",
              "axis": {"orient": "right", "offset": -451, "title": null, "labels": false, "values": [0,0.5,1,1.5,2,2.5,3,3.5,4,4.5,5,5.5,6,6.5,7,7.5,8,8.5,9,9.5,10],
                "tickSize": {"condition": {"test": "abs(datum.value - round(datum.value)) < 0.001", "value": 6}, "value": 3}}},
            "detail": {"field": "s"}
          }
        },
        {
          "mark": {"type": "line", "opacity": 0},
          "encoding": {
            "x": {"field": "e", "type": "quantitative",
              "axis": {"orient": "bottom", "offset": -292, "title": null, "labels": false, "values": [4,4.2,4.4,4.6,4.8,5,5.2,5.4,5.6,5.8,6,6.2,6.4,6.6,6.8,7,7.2,7.4,7.6,7.8,8,8.2,8.4,8.6,8.8,9,9.2,9.4,9.6,9.8,10,10.2],
                "tickSize": {"condition": {"test": "abs(datum.value - round(datum.value)) < 0.001", "value": 6}, "value": 3}}},
            "y": {"field": "a", "type": "quantitative",
              "axis": {"orient": "left", "offset": -451, "title": null, "labels": false, "values": [0,0.5,1,1.5,2,2.5,3,3.5,4,4.5,5,5.5,6,6.5,7,7.5,8,8.5,9,9.5,10],
                "tickSize": {"condition": {"test": "abs(datum.value - round(datum.value)) < 0.001", "value": 6}, "value": 3}}},
            "detail": {"field": "s"}
          }
        }
      ],
      "resolve": {"axis": {"x": "independent", "y": "independent"}}
    }
  ],
  "spacing": 82,
  "resolve": {"scale": {"color": "independent"}, "legend": {"color": "independent"}}
}
